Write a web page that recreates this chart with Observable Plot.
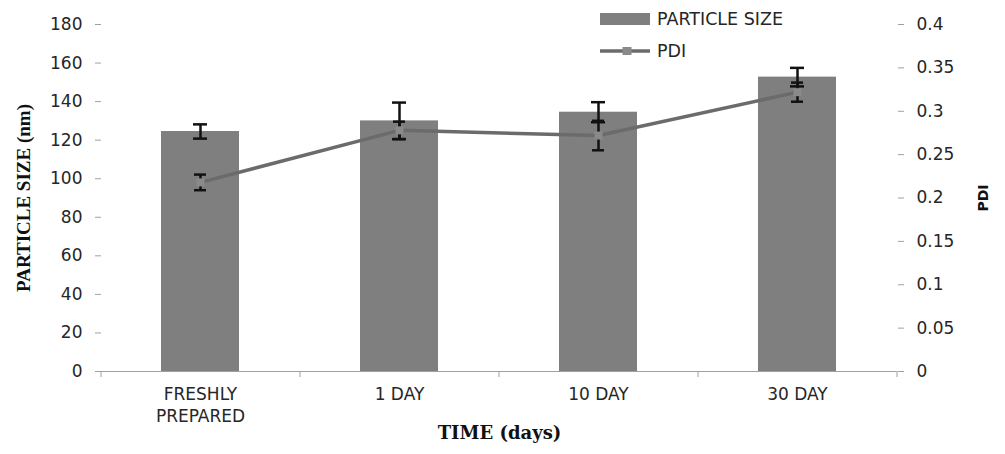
<!DOCTYPE html>
<html><head><meta charset="utf-8">
<script src="https://cdn.jsdelivr.net/npm/d3@7"></script>
<script src="https://cdn.jsdelivr.net/npm/@observablehq/plot@0.6"></script>
<style>
body{margin:0;background:#fff;}
#wrap{position:relative;width:1005px;height:454px;}
.leg{position:absolute;left:600px;height:26px;display:flex;align-items:center;font-family:"DejaVu Sans";font-size:17.5px;color:#262626;}
.leg .sw{width:50px;height:12px;background:#7f7f7f;margin-right:7px;}
.leg svg{margin-right:7px;}
</style></head><body><div id="wrap"></div>
<script>
const categories = ["FRESHLY\nPREPARED", "1 DAY", "10 DAY", "30 DAY"];
const particleSize = [124.5, 130, 134.5, 152.7];
const particleErr = [3.7, 9.5, 5.2, 4.8];
const pdi = [0.218, 0.278, 0.272, 0.322];
const pdiErr = [0.009, 0.010, 0.017, 0.011];
const sizeTicks = [0, 20, 40, 60, 80, 100, 120, 140, 160, 180];
const pdiTicks = [0, 0.05, 0.1, 0.15, 0.2, 0.25, 0.3, 0.35, 0.4];
const seriesNames = ["PARTICLE SIZE", "PDI"];
const axisTitles = {y: "PARTICLE SIZE (nm)", y2: "PDI", x: "TIME (days)"};

const W = 1005, H = 454, ML = 101, MR = 108, MT = 24, MB = 83;
const k = sizeTicks[sizeTicks.length - 1] / pdiTicks[pdiTicks.length - 1];
const rows = categories.map((c, i) => ({
  cat: c, size: particleSize[i], se: particleErr[i], pdi: pdi[i] * k, pe: pdiErr[i] * k
}));
const PI = 0.608, PO = 0.304;
const step = (W - ML - MR) / categories.length;
const bw = step * (1 - PI);
const capW = 14;
const capInset = (bw - capW) / 2;
const axisGray = "#a0a0a0";
const errColor = "#111";

const chart = Plot.plot({
  width: W, height: H,
  marginLeft: ML, marginRight: MR, marginTop: MT, marginBottom: MB,
  style: {fontFamily: "DejaVu Sans", fontSize: "17px", color: "#262626", background: "#fff"},
  x: {type: "band", domain: categories, paddingInner: PI, paddingOuter: PO},
  y: {domain: [0, sizeTicks[sizeTicks.length - 1]]},
  marks: [
    Plot.barY(rows, {x: "cat", y: "size", fill: "#7f7f7f"}),
    Plot.ruleY([0], {stroke: axisGray, strokeWidth: 1.2}),
    Plot.ruleX(rows, {x: "cat", y1: 0, y2: 0, dx: -step / 2, insetBottom: -6, stroke: axisGray}),
    Plot.ruleX(rows.slice(-1), {x: "cat", y1: 0, y2: 0, dx: step / 2, insetBottom: -6, stroke: axisGray}),
    // particle size error bars
    Plot.ruleX(rows, {x: "cat", y1: d => d.size - d.se, y2: d => d.size + d.se, stroke: errColor, strokeWidth: 2.5}),
    Plot.tickY(rows, {x: "cat", y: d => d.size + d.se, insetLeft: capInset, insetRight: capInset, stroke: errColor, strokeWidth: 2.5}),
    Plot.tickY(rows, {x: "cat", y: d => d.size - d.se, insetLeft: capInset, insetRight: capInset, stroke: errColor, strokeWidth: 2.5}),
    // PDI error bars
    Plot.ruleX(rows, {x: "cat", y1: d => d.pdi - d.pe, y2: d => d.pdi + d.pe, stroke: errColor, strokeWidth: 2.5}),
    Plot.tickY(rows, {x: "cat", y: d => d.pdi + d.pe, insetLeft: capInset + 1, insetRight: capInset + 1, stroke: errColor, strokeWidth: 2.5}),
    Plot.tickY(rows, {x: "cat", y: d => d.pdi - d.pe, insetLeft: capInset + 1, insetRight: capInset + 1, stroke: errColor, strokeWidth: 2.5}),
    // PDI line
    Plot.line(rows, {x: "cat", y: "pdi", stroke: "#6b6b6b", strokeWidth: 3.5}),
    Plot.dot(rows, {x: "cat", y: "pdi", symbol: "square", r: 4.5, fill: "#8a8a8a"}),
    // axes
    Plot.axisY({ticks: sizeTicks, tickSize: 6, tickPadding: 13, line: true, stroke: axisGray, fill: "#262626", label: null, fontSize: 17}),
    Plot.axisY({anchor: "right", ticks: pdiTicks.map(v => v * k), tickFormat: d => String(+(d / k).toFixed(2)),
      tickSize: 6, tickPadding: 13, line: true, stroke: axisGray, fill: "#262626", label: null, fontSize: 17}),
    Plot.axisX({tickSize: 0, tickPadding: 13, label: null, fontSize: 17, lineHeight: 1.3, fill: "#262626"}),
    // axis titles
    Plot.text([axisTitles.y], {frameAnchor: "left", dx: -78, rotate: -90, textAnchor: "middle", fontFamily: "Liberation Serif", fontWeight: "bold", fontSize: 19, fill: "#111"}),
    Plot.text([axisTitles.x], {frameAnchor: "bottom", dy: 67, fontFamily: "DejaVu Serif", fontWeight: "bold", fontSize: 18, fill: "#111"}),
    Plot.text([axisTitles.y2], {frameAnchor: "right", dx: 86, rotate: -90, textAnchor: "middle", fontFamily: "DejaVu Sans", fontWeight: "bold", fontSize: 14, fill: "#111"})
  ]
});
const wrap = document.getElementById("wrap");
wrap.appendChild(chart);

const leg1 = document.createElement("div");
leg1.className = "leg"; leg1.style.top = "6px";
leg1.innerHTML = `<div class="sw"></div><span>${seriesNames[0]}</span>`;
const leg2 = document.createElement("div");
leg2.className = "leg"; leg2.style.top = "38px";
leg2.innerHTML = `<svg width="50" height="12"><line x1="0" x2="50" y1="6" y2="6" stroke="#6b6b6b" stroke-width="3.5"/><rect x="22.5" y="2" width="9" height="8" fill="#8a8a8a"/></svg><span>${seriesNames[1]}</span>`;
wrap.appendChild(leg1);
wrap.appendChild(leg2);
</script>
</body></html>
